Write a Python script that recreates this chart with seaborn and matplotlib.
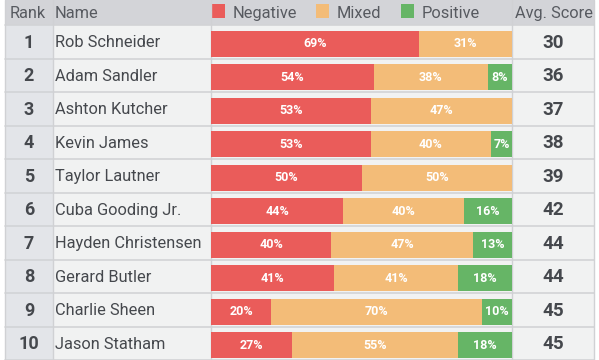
import numpy as np
import pandas as pd
import matplotlib
matplotlib.use("Agg")
import matplotlib.pyplot as plt
from matplotlib.patches import Rectangle
import seaborn as sns

# ── Data ──
ranks = [1, 2, 3, 4, 5, 6, 7, 8, 9, 10]
names = ["Rob Schneider", "Adam Sandler", "Ashton Kutcher", "Kevin James", "Taylor Lautner",
         "Cuba Gooding Jr.", "Hayden Christensen", "Gerard Butler", "Charlie Sheen", "Jason Statham"]
negative = [69, 54, 53, 53, 50, 44, 40, 41, 20, 27]
mixed = [31, 38, 47, 40, 50, 40, 47, 41, 70, 55]
positive = [0, 8, 0, 7, 0, 16, 13, 18, 10, 18]
avg_score = [30, 36, 37, 38, 39, 42, 44, 44, 45, 45]

RED, ORANGE, GREEN = "#ea5c5a", "#f3bc78", "#66b566"
TXT = "#45484d"
HDR_TXT = "#575a60"

sns.set_theme(style="white")
plt.rcParams["font.family"] = ["Roboto", "DejaVu Sans"]

W, H = 599, 360
HDR = 25
ROW = (H - HDR) / len(names)

fig = plt.figure(figsize=(W / 100, H / 100), dpi=100)

# ── Table background (pixel coords) ──
bg = fig.add_axes([0, 0, 1, 1])
bg.set_xlim(0, W)
bg.set_ylim(H, 0)
bg.axis("off")
X0, X_NAME, X_BAR, X_AVG, X1 = 5, 53, 211, 512, 594
bg.add_patch(Rectangle((X0, 0), X1 - X0, HDR, color="#d3d4d8", lw=0))
bg.add_patch(Rectangle((X0, HDR), X_NAME - X0, H - HDR, color="#e3e5e9", lw=0))
bg.add_patch(Rectangle((X_NAME, HDR), X1 - X_NAME, H - HDR, color="#f1f2f2", lw=0))
for i in range(len(names) + 1):
    y = HDR + i * ROW
    bg.plot([X0, X1], [y, y], color="#d2d3d6", lw=1.2)
for x in [X0, X_NAME, X_BAR, X_AVG, X1]:
    bg.plot([x, x], [0, H], color="#d0d1d4", lw=1)

# header text
hy = HDR / 2 + 1
FS = 11.8
bg.text(10, hy, "Rank", ha="left", va="center", fontsize=FS, color=HDR_TXT)
bg.text(55, hy, "Name", ha="left", va="center", fontsize=FS, color=HDR_TXT)
bg.text(515, hy, "Avg. Score", ha="left", va="center", fontsize=FS, color=HDR_TXT)
for lx, lab, col in [(212, "Negative", RED), (316, "Mixed", ORANGE), (401, "Positive", GREEN)]:
    bg.add_patch(Rectangle((lx, 4), 13, 14, color=col, lw=0))
    bg.text(lx + 21, hy, lab, ha="left", va="center", fontsize=FS, color=HDR_TXT)

# row text
for i, (r, n, s) in enumerate(zip(ranks, names, avg_score)):
    cy = HDR + (i + 0.5) * ROW + 1
    bg.text((X0 + X_NAME) / 2, cy, str(r), ha="center", va="center", fontsize=13,
            fontweight="bold", color=TXT)
    bg.text(55, cy, n, ha="left", va="center", fontsize=FS, color=TXT)
    bg.text((X_AVG + X1) / 2, cy, str(s), ha="center", va="center", fontsize=13.5,
            fontweight="bold", color=TXT)

# ── Stacked bars ──
df = pd.DataFrame({"name": names, "neg": negative, "mix": mixed, "pos": positive})
df["neg_mix"] = df["neg"] + df["mix"]
df["total"] = df["neg_mix"] + df["pos"]

ax = fig.add_axes([X_BAR / W, 0 - 2 / H, (X_AVG - X_BAR) / W, (H - HDR) / H])
ax.patch.set_alpha(0)
sns.barplot(data=df, x="total", y="name", color=GREEN, saturation=1, width=0.78, ax=ax)
sns.barplot(data=df, x="neg_mix", y="name", color=ORANGE, saturation=1, width=0.78, ax=ax)
sns.barplot(data=df, x="neg", y="name", color=RED, saturation=1, width=0.78, ax=ax)
for p in ax.patches:
    p.set_edgecolor("none")
ax.set_xlim(0, 100)
ax.set_ylim(len(names) - 0.5, -0.5)
ax.axis("off")

for i, row in df.iterrows():
    start = 0
    for v in [row["neg"], row["mix"], row["pos"]]:
        if v > 0:
            ax.text(start + v / 2, i, f"{v}%", ha="center", va="center", fontsize=9,
                    fontweight="bold", color="white")
        start += v

fig.savefig("out.png", dpi=100)
